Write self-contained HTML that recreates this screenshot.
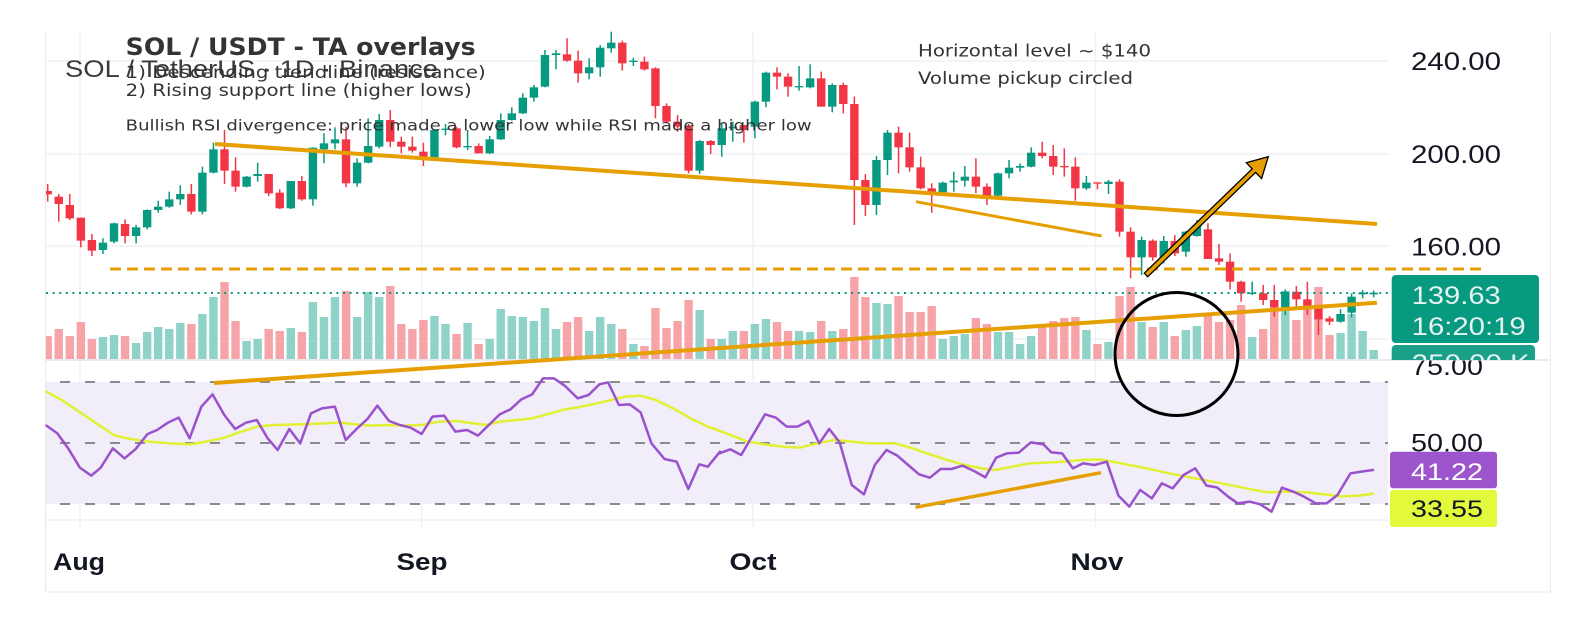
<!DOCTYPE html>
<html><head><meta charset="utf-8">
<style>
html,body{margin:0;padding:0;background:#fff;}
svg{display:block;}
.g rect{fill:#089981}.r rect{fill:#f23645}
.g .v{fill:#8fd3c8}.r .v{fill:#f6a4a8}
.ax{font-family:"Liberation Sans",Arial,sans-serif;fill:#131722;}
.an{font-family:"DejaVu Sans","Liberation Sans",sans-serif;fill:#333;}
</style></head>
<body>
<svg width="1589" height="630" viewBox="0 0 1589 630" xmlns="http://www.w3.org/2000/svg">
<defs>
<clipPath id="pc"><rect x="46" y="31" width="1342" height="329"/></clipPath>
<clipPath id="below"><rect x="1380" y="360.5" width="200" height="40"/></clipPath>
<clipPath id="above"><rect x="1380" y="330" width="200" height="30"/></clipPath>
</defs>
<rect width="1589" height="630" fill="#fff"/>
<!-- frame -->
<g stroke="#e9ebef" stroke-width="1" fill="none">
<line x1="45.5" y1="31" x2="45.5" y2="592"/>
<line x1="1550.5" y1="31" x2="1550.5" y2="592"/>
<line x1="45.5" y1="592" x2="1550.5" y2="592"/>
</g>
<!-- grid -->
<g stroke="#eff1f5" stroke-width="1.5">
<line x1="46" y1="61" x2="1388" y2="61"/>
<line x1="46" y1="154" x2="1388" y2="154"/>
<line x1="46" y1="246" x2="1388" y2="246"/>
<line x1="46" y1="339" x2="1388" y2="339"/>
<line x1="46" y1="520" x2="1388" y2="520"/>
<line x1="80" y1="31" x2="80" y2="527"/>
<line x1="421.6" y1="31" x2="421.6" y2="527"/>
<line x1="753" y1="31" x2="753" y2="527"/>
<line x1="1095.5" y1="31" x2="1095.5" y2="527"/>
</g>
<line x1="46" y1="360" x2="1550" y2="360" stroke="#e0e3eb" stroke-width="1.5"/>
<!-- RSI pane -->
<rect x="46" y="382" width="1342" height="122" fill="#f1edf9"/>
<g stroke="#8a8b90" stroke-width="2" stroke-dasharray="10 15" stroke-dashoffset="11">
<line x1="46" y1="382" x2="1388" y2="382"/>
<line x1="46" y1="443" x2="1388" y2="443"/>
<line x1="46" y1="504" x2="1388" y2="504"/>
</g>
<g fill="none" stroke-linejoin="round" stroke-linecap="round">
<g transform="translate(40,355) scale(0.43365,0.333333)">
<path vector-effect="non-scaling-stroke" stroke="#e2f032" stroke-width="2.5" d="M15,110L50,135L90,170L130,205L170,240L200,250L250,260L300,265L345,268L375,262L420,250L460,232L500,215L540,210L600,208L660,205L690,202L720,207L760,212L800,210L840,212L880,210L920,200L960,198L1000,205L1030,210L1060,200L1100,195L1135,190L1170,178L1210,163L1240,157L1275,148L1310,137L1350,125L1385,122L1420,135L1460,160L1500,190L1540,215L1568,228"/>
<path vector-effect="non-scaling-stroke" stroke="#9a52cc" stroke-width="2.5" d="M15,212L40,235L65,280L92,338L118,362L140,338L168,280L195,310L220,283L248,237L270,225L295,203L320,188L345,250L372,155L398,118L425,180L450,222L475,203L500,195L525,250L548,285L575,222L600,265L625,175L650,160L680,155L705,255L730,222L755,192L778,152L805,198L830,210L855,218L880,237L905,185L932,182L958,230L985,225L1010,242L1035,210L1060,178L1085,163L1110,133L1135,118L1160,70L1185,70L1210,92L1240,130L1265,120L1290,88L1310,82L1335,150L1360,148L1385,172L1410,265L1440,312L1468,320L1495,402L1520,328L1540,335L1568,290"/>
</g>
<g transform="translate(700,355) scale(0.43365,0.333333)">
<path vector-effect="non-scaling-stroke" stroke="#e2f032" stroke-width="2.5" d="M30,220L70,240L110,260L150,268L190,275L230,278L270,265L310,255L350,260L390,265L450,265L490,280L530,298L570,315L610,330L650,340L680,345L720,335L760,325L800,323L840,320L880,315L920,313L950,320L990,330L1030,340L1070,352L1110,362L1150,372L1190,382L1230,392L1270,403L1310,412L1350,410L1400,412L1440,418L1480,424L1520,422L1552,416"/>
<path vector-effect="non-scaling-stroke" stroke="#9a52cc" stroke-width="2.5" d="M45,295L70,283L95,300L122,240L150,178L175,188L200,215L225,215L250,198L275,265L298,222L322,262L350,390L378,418L403,330L430,285L455,302L480,330L505,358L530,368L555,342L580,342L605,332L632,348L658,367L683,308L708,295L735,293L763,262L792,268L810,292L835,295L860,340L883,325L910,330L938,320L965,422L990,455L1015,405L1042,430L1065,385L1090,400L1115,360L1142,340L1168,392L1192,397L1218,425L1240,445L1268,440L1292,448L1318,470L1342,398L1368,410L1393,425L1420,445L1445,445L1470,420L1500,355L1525,350L1552,345"/>
</g>
</g>
<!-- candles + volume -->
<g clip-path="url(#pc)"><g transform="translate(0,30) scale(1,0.333333)">
<g class="r" transform="translate(47.7,0)"><rect class="v" x="-4.2" y="918" width="8.4" height="69"/><rect x="-.75" y="462" width="1.5" height="53"/><rect x="-4.2" y="483" width="8.4" height="10"/></g>
<g class="r" transform="translate(58.75,0)"><rect class="v" x="-4.2" y="897" width="8.4" height="90"/><rect x="-.75" y="492" width="1.5" height="83"/><rect x="-4.2" y="500" width="8.4" height="22"/></g>
<g class="r" transform="translate(69.8,0)"><rect class="v" x="-4.2" y="918" width="8.4" height="69"/><rect x="-.75" y="492" width="1.5" height="78"/><rect x="-4.2" y="525" width="8.4" height="40"/></g>
<g class="r" transform="translate(80.85,0)"><rect class="v" x="-4.2" y="876" width="8.4" height="111"/><rect x="-.75" y="563" width="1.5" height="89"/><rect x="-4.2" y="563" width="8.4" height="69"/></g>
<g class="r" transform="translate(91.9,0)"><rect class="v" x="-4.2" y="927" width="8.4" height="60"/><rect x="-.75" y="612" width="1.5" height="66"/><rect x="-4.2" y="630" width="8.4" height="32"/></g>
<g class="g" transform="translate(102.95,0)"><rect class="v" x="-4.2" y="921" width="8.4" height="66"/><rect x="-.75" y="625" width="1.5" height="47"/><rect x="-4.2" y="638" width="8.4" height="22"/></g>
<g class="g" transform="translate(114,0)"><rect class="v" x="-4.2" y="915" width="8.4" height="72"/><rect x="-.75" y="578" width="1.5" height="62"/><rect x="-4.2" y="580" width="8.4" height="55"/></g>
<g class="r" transform="translate(125.05,0)"><rect class="v" x="-4.2" y="918" width="8.4" height="69"/><rect x="-.75" y="568" width="1.5" height="72"/><rect x="-4.2" y="582" width="8.4" height="36"/></g>
<g class="g" transform="translate(136.1,0)"><rect class="v" x="-4.2" y="939" width="8.4" height="48"/><rect x="-.75" y="585" width="1.5" height="55"/><rect x="-4.2" y="592" width="8.4" height="26"/></g>
<g class="g" transform="translate(147.15,0)"><rect class="v" x="-4.2" y="906" width="8.4" height="81"/><rect x="-.75" y="538" width="1.5" height="60"/><rect x="-4.2" y="540" width="8.4" height="52"/></g>
<g class="g" transform="translate(158.2,0)"><rect class="v" x="-4.2" y="891" width="8.4" height="96"/><rect x="-.75" y="512" width="1.5" height="36"/><rect x="-4.2" y="530" width="8.4" height="10"/></g>
<g class="g" transform="translate(169.25,0)"><rect class="v" x="-4.2" y="897" width="8.4" height="90"/><rect x="-.75" y="485" width="1.5" height="48"/><rect x="-4.2" y="508" width="8.4" height="22"/></g>
<g class="g" transform="translate(180.3,0)"><rect class="v" x="-4.2" y="879" width="8.4" height="108"/><rect x="-.75" y="466" width="1.5" height="59"/><rect x="-4.2" y="492" width="8.4" height="16"/></g>
<g class="r" transform="translate(191.35,0)"><rect class="v" x="-4.2" y="882" width="8.4" height="105"/><rect x="-.75" y="462" width="1.5" height="91"/><rect x="-4.2" y="492" width="8.4" height="53"/></g>
<g class="g" transform="translate(202.4,0)"><rect class="v" x="-4.2" y="852" width="8.4" height="135"/><rect x="-.75" y="410" width="1.5" height="143"/><rect x="-4.2" y="428" width="8.4" height="117"/></g>
<g class="g" transform="translate(213.45,0)"><rect class="v" x="-4.2" y="801" width="8.4" height="186"/><rect x="-.75" y="338" width="1.5" height="92"/><rect x="-4.2" y="358" width="8.4" height="70"/></g>
<g class="r" transform="translate(224.5,0)"><rect class="v" x="-4.2" y="756" width="8.4" height="231"/><rect x="-.75" y="300" width="1.5" height="162"/><rect x="-4.2" y="358" width="8.4" height="64"/></g>
<g class="r" transform="translate(235.55,0)"><rect class="v" x="-4.2" y="873" width="8.4" height="114"/><rect x="-.75" y="382" width="1.5" height="103"/><rect x="-4.2" y="422" width="8.4" height="48"/></g>
<g class="g" transform="translate(246.6,0)"><rect class="v" x="-4.2" y="933" width="8.4" height="54"/><rect x="-.75" y="438" width="1.5" height="34"/><rect x="-4.2" y="440" width="8.4" height="30"/></g>
<g class="g" transform="translate(257.65,0)"><rect class="v" x="-4.2" y="927" width="8.4" height="60"/><rect x="-.75" y="398" width="1.5" height="57"/><rect x="-4.2" y="432" width="8.4" height="6"/></g>
<g class="r" transform="translate(268.7,0)"><rect class="v" x="-4.2" y="897" width="8.4" height="90"/><rect x="-.75" y="432" width="1.5" height="66"/><rect x="-4.2" y="432" width="8.4" height="58"/></g>
<g class="r" transform="translate(279.75,0)"><rect class="v" x="-4.2" y="903" width="8.4" height="84"/><rect x="-.75" y="478" width="1.5" height="59"/><rect x="-4.2" y="488" width="8.4" height="47"/></g>
<g class="g" transform="translate(290.8,0)"><rect class="v" x="-4.2" y="894" width="8.4" height="93"/><rect x="-.75" y="453" width="1.5" height="84"/><rect x="-4.2" y="453" width="8.4" height="82"/></g>
<g class="r" transform="translate(301.85,0)"><rect class="v" x="-4.2" y="906" width="8.4" height="81"/><rect x="-.75" y="438" width="1.5" height="74"/><rect x="-4.2" y="453" width="8.4" height="55"/></g>
<g class="g" transform="translate(312.9,0)"><rect class="v" x="-4.2" y="816" width="8.4" height="171"/><rect x="-.75" y="352" width="1.5" height="175"/><rect x="-4.2" y="353" width="8.4" height="155"/></g>
<g class="g" transform="translate(323.95,0)"><rect class="v" x="-4.2" y="861" width="8.4" height="126"/><rect x="-.75" y="310" width="1.5" height="90"/><rect x="-4.2" y="340" width="8.4" height="18"/></g>
<g class="g" transform="translate(335,0)"><rect class="v" x="-4.2" y="801" width="8.4" height="186"/><rect x="-.75" y="292" width="1.5" height="66"/><rect x="-4.2" y="328" width="8.4" height="12"/></g>
<g class="r" transform="translate(346.05,0)"><rect class="v" x="-4.2" y="783" width="8.4" height="204"/><rect x="-.75" y="290" width="1.5" height="182"/><rect x="-4.2" y="328" width="8.4" height="132"/></g>
<g class="g" transform="translate(357.1,0)"><rect class="v" x="-4.2" y="861" width="8.4" height="126"/><rect x="-.75" y="385" width="1.5" height="85"/><rect x="-4.2" y="398" width="8.4" height="62"/></g>
<g class="g" transform="translate(368.15,0)"><rect class="v" x="-4.2" y="786" width="8.4" height="201"/><rect x="-.75" y="265" width="1.5" height="135"/><rect x="-4.2" y="348" width="8.4" height="50"/></g>
<g class="g" transform="translate(379.2,0)"><rect class="v" x="-4.2" y="801" width="8.4" height="186"/><rect x="-.75" y="252" width="1.5" height="103"/><rect x="-4.2" y="270" width="8.4" height="80"/></g>
<g class="r" transform="translate(390.25,0)"><rect class="v" x="-4.2" y="768" width="8.4" height="219"/><rect x="-.75" y="240" width="1.5" height="112"/><rect x="-4.2" y="270" width="8.4" height="65"/></g>
<g class="r" transform="translate(401.3,0)"><rect class="v" x="-4.2" y="882" width="8.4" height="105"/><rect x="-.75" y="320" width="1.5" height="50"/><rect x="-4.2" y="335" width="8.4" height="15"/></g>
<g class="r" transform="translate(412.35,0)"><rect class="v" x="-4.2" y="897" width="8.4" height="90"/><rect x="-.75" y="320" width="1.5" height="48"/><rect x="-4.2" y="350" width="8.4" height="12"/></g>
<g class="r" transform="translate(423.4,0)"><rect class="v" x="-4.2" y="870" width="8.4" height="117"/><rect x="-.75" y="338" width="1.5" height="70"/><rect x="-4.2" y="365" width="8.4" height="15"/></g>
<g class="g" transform="translate(434.45,0)"><rect class="v" x="-4.2" y="858" width="8.4" height="129"/><rect x="-.75" y="298" width="1.5" height="87"/><rect x="-4.2" y="300" width="8.4" height="82"/></g>
<g class="g" transform="translate(445.5,0)"><rect class="v" x="-4.2" y="882" width="8.4" height="105"/><rect x="-.75" y="282" width="1.5" height="34"/><rect x="-4.2" y="296" width="8.4" height="4"/></g>
<g class="r" transform="translate(456.55,0)"><rect class="v" x="-4.2" y="912" width="8.4" height="75"/><rect x="-.75" y="290" width="1.5" height="65"/><rect x="-4.2" y="295" width="8.4" height="57"/></g>
<g class="g" transform="translate(467.6,0)"><rect class="v" x="-4.2" y="879" width="8.4" height="108"/><rect x="-.75" y="300" width="1.5" height="60"/><rect x="-4.2" y="348" width="8.4" height="4"/></g>
<g class="r" transform="translate(478.65,0)"><rect class="v" x="-4.2" y="942" width="8.4" height="45"/><rect x="-.75" y="340" width="1.5" height="30"/><rect x="-4.2" y="348" width="8.4" height="22"/></g>
<g class="g" transform="translate(489.7,0)"><rect class="v" x="-4.2" y="927" width="8.4" height="60"/><rect x="-.75" y="318" width="1.5" height="54"/><rect x="-4.2" y="328" width="8.4" height="42"/></g>
<g class="g" transform="translate(500.75,0)"><rect class="v" x="-4.2" y="837" width="8.4" height="150"/><rect x="-.75" y="250" width="1.5" height="80"/><rect x="-4.2" y="270" width="8.4" height="58"/></g>
<g class="g" transform="translate(511.8,0)"><rect class="v" x="-4.2" y="858" width="8.4" height="129"/><rect x="-.75" y="232" width="1.5" height="40"/><rect x="-4.2" y="250" width="8.4" height="20"/></g>
<g class="g" transform="translate(522.85,0)"><rect class="v" x="-4.2" y="861" width="8.4" height="126"/><rect x="-.75" y="190" width="1.5" height="62"/><rect x="-4.2" y="203" width="8.4" height="47"/></g>
<g class="g" transform="translate(533.9,0)"><rect class="v" x="-4.2" y="873" width="8.4" height="114"/><rect x="-.75" y="165" width="1.5" height="50"/><rect x="-4.2" y="172" width="8.4" height="31"/></g>
<g class="g" transform="translate(544.95,0)"><rect class="v" x="-4.2" y="834" width="8.4" height="153"/><rect x="-.75" y="60" width="1.5" height="112"/><rect x="-4.2" y="75" width="8.4" height="95"/></g>
<g class="g" transform="translate(556,0)"><rect class="v" x="-4.2" y="897" width="8.4" height="90"/><rect x="-.75" y="60" width="1.5" height="58"/><rect x="-4.2" y="70" width="8.4" height="5"/></g>
<g class="r" transform="translate(567.05,0)"><rect class="v" x="-4.2" y="876" width="8.4" height="111"/><rect x="-.75" y="25" width="1.5" height="70"/><rect x="-4.2" y="73" width="8.4" height="19"/></g>
<g class="r" transform="translate(578.1,0)"><rect class="v" x="-4.2" y="861" width="8.4" height="126"/><rect x="-.75" y="62" width="1.5" height="96"/><rect x="-4.2" y="92" width="8.4" height="38"/></g>
<g class="g" transform="translate(589.15,0)"><rect class="v" x="-4.2" y="903" width="8.4" height="84"/><rect x="-.75" y="85" width="1.5" height="63"/><rect x="-4.2" y="112" width="8.4" height="18"/></g>
<g class="g" transform="translate(600.2,0)"><rect class="v" x="-4.2" y="861" width="8.4" height="126"/><rect x="-.75" y="45" width="1.5" height="95"/><rect x="-4.2" y="53" width="8.4" height="59"/></g>
<g class="g" transform="translate(611.25,0)"><rect class="v" x="-4.2" y="882" width="8.4" height="105"/><rect x="-.75" y="5" width="1.5" height="63"/><rect x="-4.2" y="38" width="8.4" height="17"/></g>
<g class="r" transform="translate(622.3,0)"><rect class="v" x="-4.2" y="897" width="8.4" height="90"/><rect x="-.75" y="32" width="1.5" height="90"/><rect x="-4.2" y="38" width="8.4" height="62"/></g>
<g class="g" transform="translate(633.35,0)"><rect class="v" x="-4.2" y="942" width="8.4" height="45"/><rect x="-.75" y="83" width="1.5" height="25"/><rect x="-4.2" y="92" width="8.4" height="4"/></g>
<g class="r" transform="translate(644.4,0)"><rect class="v" x="-4.2" y="948" width="8.4" height="39"/><rect x="-.75" y="80" width="1.5" height="42"/><rect x="-4.2" y="95" width="8.4" height="23"/></g>
<g class="r" transform="translate(655.45,0)"><rect class="v" x="-4.2" y="834" width="8.4" height="153"/><rect x="-.75" y="112" width="1.5" height="153"/><rect x="-4.2" y="115" width="8.4" height="113"/></g>
<g class="r" transform="translate(666.5,0)"><rect class="v" x="-4.2" y="894" width="8.4" height="93"/><rect x="-.75" y="220" width="1.5" height="58"/><rect x="-4.2" y="228" width="8.4" height="47"/></g>
<g class="r" transform="translate(677.55,0)"><rect class="v" x="-4.2" y="873" width="8.4" height="114"/><rect x="-.75" y="255" width="1.5" height="50"/><rect x="-4.2" y="275" width="8.4" height="15"/></g>
<g class="r" transform="translate(688.6,0)"><rect class="v" x="-4.2" y="810" width="8.4" height="177"/><rect x="-.75" y="282" width="1.5" height="148"/><rect x="-4.2" y="290" width="8.4" height="132"/></g>
<g class="g" transform="translate(699.65,0)"><rect class="v" x="-4.2" y="840" width="8.4" height="147"/><rect x="-.75" y="330" width="1.5" height="102"/><rect x="-4.2" y="333" width="8.4" height="89"/></g>
<g class="r" transform="translate(710.7,0)"><rect class="v" x="-4.2" y="927" width="8.4" height="60"/><rect x="-.75" y="330" width="1.5" height="42"/><rect x="-4.2" y="333" width="8.4" height="12"/></g>
<g class="g" transform="translate(721.75,0)"><rect class="v" x="-4.2" y="927" width="8.4" height="60"/><rect x="-.75" y="280" width="1.5" height="100"/><rect x="-4.2" y="295" width="8.4" height="50"/></g>
<g class="g" transform="translate(732.8,0)"><rect class="v" x="-4.2" y="903" width="8.4" height="84"/><rect x="-.75" y="275" width="1.5" height="60"/><rect x="-4.2" y="290" width="8.4" height="5"/></g>
<g class="r" transform="translate(743.85,0)"><rect class="v" x="-4.2" y="903" width="8.4" height="84"/><rect x="-.75" y="285" width="1.5" height="53"/><rect x="-4.2" y="285" width="8.4" height="15"/></g>
<g class="g" transform="translate(754.9,0)"><rect class="v" x="-4.2" y="882" width="8.4" height="105"/><rect x="-.75" y="212" width="1.5" height="113"/><rect x="-4.2" y="215" width="8.4" height="75"/></g>
<g class="g" transform="translate(765.95,0)"><rect class="v" x="-4.2" y="867" width="8.4" height="120"/><rect x="-.75" y="125" width="1.5" height="107"/><rect x="-4.2" y="128" width="8.4" height="87"/></g>
<g class="r" transform="translate(777,0)"><rect class="v" x="-4.2" y="876" width="8.4" height="111"/><rect x="-.75" y="112" width="1.5" height="66"/><rect x="-4.2" y="128" width="8.4" height="12"/></g>
<g class="r" transform="translate(788.05,0)"><rect class="v" x="-4.2" y="903" width="8.4" height="84"/><rect x="-.75" y="130" width="1.5" height="70"/><rect x="-4.2" y="140" width="8.4" height="30"/></g>
<g class="g" transform="translate(799.1,0)"><rect class="v" x="-4.2" y="903" width="8.4" height="84"/><rect x="-.75" y="108" width="1.5" height="74"/><rect x="-4.2" y="168" width="8.4" height="4"/></g>
<g class="g" transform="translate(810.15,0)"><rect class="v" x="-4.2" y="906" width="8.4" height="81"/><rect x="-.75" y="103" width="1.5" height="72"/><rect x="-4.2" y="145" width="8.4" height="27"/></g>
<g class="r" transform="translate(821.2,0)"><rect class="v" x="-4.2" y="873" width="8.4" height="114"/><rect x="-.75" y="125" width="1.5" height="105"/><rect x="-4.2" y="145" width="8.4" height="85"/></g>
<g class="g" transform="translate(832.25,0)"><rect class="v" x="-4.2" y="903" width="8.4" height="84"/><rect x="-.75" y="160" width="1.5" height="87"/><rect x="-4.2" y="165" width="8.4" height="65"/></g>
<g class="r" transform="translate(843.3,0)"><rect class="v" x="-4.2" y="897" width="8.4" height="90"/><rect x="-.75" y="158" width="1.5" height="92"/><rect x="-4.2" y="165" width="8.4" height="57"/></g>
<g class="r" transform="translate(854.35,0)"><rect class="v" x="-4.2" y="741" width="8.4" height="246"/><rect x="-.75" y="200" width="1.5" height="385"/><rect x="-4.2" y="222" width="8.4" height="228"/></g>
<g class="r" transform="translate(865.4,0)"><rect class="v" x="-4.2" y="801" width="8.4" height="186"/><rect x="-.75" y="432" width="1.5" height="126"/><rect x="-4.2" y="450" width="8.4" height="75"/></g>
<g class="g" transform="translate(876.45,0)"><rect class="v" x="-4.2" y="819" width="8.4" height="168"/><rect x="-.75" y="378" width="1.5" height="177"/><rect x="-4.2" y="390" width="8.4" height="135"/></g>
<g class="g" transform="translate(887.5,0)"><rect class="v" x="-4.2" y="822" width="8.4" height="165"/><rect x="-.75" y="300" width="1.5" height="135"/><rect x="-4.2" y="308" width="8.4" height="82"/></g>
<g class="r" transform="translate(898.55,0)"><rect class="v" x="-4.2" y="798" width="8.4" height="189"/><rect x="-.75" y="290" width="1.5" height="140"/><rect x="-4.2" y="308" width="8.4" height="44"/></g>
<g class="r" transform="translate(909.6,0)"><rect class="v" x="-4.2" y="846" width="8.4" height="141"/><rect x="-.75" y="308" width="1.5" height="117"/><rect x="-4.2" y="352" width="8.4" height="60"/></g>
<g class="r" transform="translate(920.65,0)"><rect class="v" x="-4.2" y="846" width="8.4" height="141"/><rect x="-.75" y="380" width="1.5" height="98"/><rect x="-4.2" y="412" width="8.4" height="63"/></g>
<g class="r" transform="translate(931.7,0)"><rect class="v" x="-4.2" y="828" width="8.4" height="159"/><rect x="-.75" y="460" width="1.5" height="88"/><rect x="-4.2" y="475" width="8.4" height="12"/></g>
<g class="g" transform="translate(942.75,0)"><rect class="v" x="-4.2" y="927" width="8.4" height="60"/><rect x="-.75" y="455" width="1.5" height="35"/><rect x="-4.2" y="458" width="8.4" height="29"/></g>
<g class="g" transform="translate(953.8,0)"><rect class="v" x="-4.2" y="918" width="8.4" height="69"/><rect x="-.75" y="425" width="1.5" height="60"/><rect x="-4.2" y="452" width="8.4" height="5"/></g>
<g class="g" transform="translate(964.85,0)"><rect class="v" x="-4.2" y="912" width="8.4" height="75"/><rect x="-.75" y="408" width="1.5" height="62"/><rect x="-4.2" y="440" width="8.4" height="12"/></g>
<g class="r" transform="translate(975.9,0)"><rect class="v" x="-4.2" y="864" width="8.4" height="123"/><rect x="-.75" y="385" width="1.5" height="105"/><rect x="-4.2" y="440" width="8.4" height="30"/></g>
<g class="r" transform="translate(986.95,0)"><rect class="v" x="-4.2" y="882" width="8.4" height="105"/><rect x="-.75" y="460" width="1.5" height="65"/><rect x="-4.2" y="470" width="8.4" height="27"/></g>
<g class="g" transform="translate(998,0)"><rect class="v" x="-4.2" y="906" width="8.4" height="81"/><rect x="-.75" y="428" width="1.5" height="70"/><rect x="-4.2" y="430" width="8.4" height="67"/></g>
<g class="g" transform="translate(1009.05,0)"><rect class="v" x="-4.2" y="906" width="8.4" height="81"/><rect x="-.75" y="390" width="1.5" height="55"/><rect x="-4.2" y="413" width="8.4" height="17"/></g>
<g class="g" transform="translate(1020.1,0)"><rect class="v" x="-4.2" y="942" width="8.4" height="45"/><rect x="-.75" y="400" width="1.5" height="25"/><rect x="-4.2" y="408" width="8.4" height="5"/></g>
<g class="g" transform="translate(1031.15,0)"><rect class="v" x="-4.2" y="918" width="8.4" height="69"/><rect x="-.75" y="352" width="1.5" height="60"/><rect x="-4.2" y="368" width="8.4" height="42"/></g>
<g class="r" transform="translate(1042.2,0)"><rect class="v" x="-4.2" y="885" width="8.4" height="102"/><rect x="-.75" y="335" width="1.5" height="50"/><rect x="-4.2" y="368" width="8.4" height="10"/></g>
<g class="r" transform="translate(1053.25,0)"><rect class="v" x="-4.2" y="873" width="8.4" height="114"/><rect x="-.75" y="345" width="1.5" height="90"/><rect x="-4.2" y="378" width="8.4" height="32"/></g>
<g class="r" transform="translate(1064.3,0)"><rect class="v" x="-4.2" y="864" width="8.4" height="123"/><rect x="-.75" y="355" width="1.5" height="85"/><rect x="-4.2" y="408" width="8.4" height="4"/></g>
<g class="r" transform="translate(1075.35,0)"><rect class="v" x="-4.2" y="861" width="8.4" height="126"/><rect x="-.75" y="382" width="1.5" height="130"/><rect x="-4.2" y="410" width="8.4" height="65"/></g>
<g class="g" transform="translate(1086.4,0)"><rect class="v" x="-4.2" y="900" width="8.4" height="87"/><rect x="-.75" y="438" width="1.5" height="42"/><rect x="-4.2" y="458" width="8.4" height="17"/></g>
<g class="r" transform="translate(1097.45,0)"><rect class="v" x="-4.2" y="942" width="8.4" height="45"/><rect x="-.75" y="457" width="1.5" height="21"/><rect x="-4.2" y="457" width="8.4" height="4"/></g>
<g class="g" transform="translate(1108.5,0)"><rect class="v" x="-4.2" y="936" width="8.4" height="51"/><rect x="-.75" y="450" width="1.5" height="42"/><rect x="-4.2" y="455" width="8.4" height="7"/></g>
<g class="r" transform="translate(1119.55,0)"><rect class="v" x="-4.2" y="798" width="8.4" height="189"/><rect x="-.75" y="448" width="1.5" height="172"/><rect x="-4.2" y="455" width="8.4" height="150"/></g>
<g class="r" transform="translate(1130.6,0)"><rect class="v" x="-4.2" y="771" width="8.4" height="216"/><rect x="-.75" y="592" width="1.5" height="153"/><rect x="-4.2" y="605" width="8.4" height="77"/></g>
<g class="g" transform="translate(1141.65,0)"><rect class="v" x="-4.2" y="876" width="8.4" height="111"/><rect x="-.75" y="620" width="1.5" height="115"/><rect x="-4.2" y="630" width="8.4" height="52"/></g>
<g class="r" transform="translate(1152.7,0)"><rect class="v" x="-4.2" y="891" width="8.4" height="96"/><rect x="-.75" y="628" width="1.5" height="64"/><rect x="-4.2" y="632" width="8.4" height="50"/></g>
<g class="g" transform="translate(1163.75,0)"><rect class="v" x="-4.2" y="876" width="8.4" height="111"/><rect x="-.75" y="618" width="1.5" height="82"/><rect x="-4.2" y="633" width="8.4" height="52"/></g>
<g class="r" transform="translate(1174.8,0)"><rect class="v" x="-4.2" y="918" width="8.4" height="69"/><rect x="-.75" y="615" width="1.5" height="63"/><rect x="-4.2" y="633" width="8.4" height="37"/></g>
<g class="g" transform="translate(1185.85,0)"><rect class="v" x="-4.2" y="900" width="8.4" height="87"/><rect x="-.75" y="603" width="1.5" height="77"/><rect x="-4.2" y="605" width="8.4" height="60"/></g>
<g class="g" transform="translate(1196.9,0)"><rect class="v" x="-4.2" y="888" width="8.4" height="99"/><rect x="-.75" y="570" width="1.5" height="50"/><rect x="-4.2" y="585" width="8.4" height="33"/></g>
<g class="r" transform="translate(1207.95,0)"><rect class="v" x="-4.2" y="858" width="8.4" height="129"/><rect x="-.75" y="580" width="1.5" height="107"/><rect x="-4.2" y="598" width="8.4" height="89"/></g>
<g class="r" transform="translate(1219,0)"><rect class="v" x="-4.2" y="876" width="8.4" height="111"/><rect x="-.75" y="642" width="1.5" height="63"/><rect x="-4.2" y="685" width="8.4" height="10"/></g>
<g class="r" transform="translate(1230.05,0)"><rect class="v" x="-4.2" y="870" width="8.4" height="117"/><rect x="-.75" y="670" width="1.5" height="108"/><rect x="-4.2" y="695" width="8.4" height="60"/></g>
<g class="r" transform="translate(1241.1,0)"><rect class="v" x="-4.2" y="825" width="8.4" height="162"/><rect x="-.75" y="752" width="1.5" height="63"/><rect x="-4.2" y="755" width="8.4" height="35"/></g>
<g class="g" transform="translate(1252.15,0)"><rect class="v" x="-4.2" y="921" width="8.4" height="66"/><rect x="-.75" y="755" width="1.5" height="40"/><rect x="-4.2" y="788" width="8.4" height="4"/></g>
<g class="r" transform="translate(1263.2,0)"><rect class="v" x="-4.2" y="897" width="8.4" height="90"/><rect x="-.75" y="765" width="1.5" height="60"/><rect x="-4.2" y="790" width="8.4" height="20"/></g>
<g class="r" transform="translate(1274.25,0)"><rect class="v" x="-4.2" y="825" width="8.4" height="162"/><rect x="-.75" y="765" width="1.5" height="95"/><rect x="-4.2" y="810" width="8.4" height="22"/></g>
<g class="g" transform="translate(1285.3,0)"><rect class="v" x="-4.2" y="783" width="8.4" height="204"/><rect x="-.75" y="778" width="1.5" height="77"/><rect x="-4.2" y="785" width="8.4" height="47"/></g>
<g class="r" transform="translate(1296.35,0)"><rect class="v" x="-4.2" y="870" width="8.4" height="117"/><rect x="-.75" y="768" width="1.5" height="62"/><rect x="-4.2" y="785" width="8.4" height="23"/></g>
<g class="r" transform="translate(1307.4,0)"><rect class="v" x="-4.2" y="825" width="8.4" height="162"/><rect x="-.75" y="755" width="1.5" height="100"/><rect x="-4.2" y="808" width="8.4" height="24"/></g>
<g class="r" transform="translate(1318.45,0)"><rect class="v" x="-4.2" y="771" width="8.4" height="216"/><rect x="-.75" y="830" width="1.5" height="85"/><rect x="-4.2" y="832" width="8.4" height="36"/></g>
<g class="r" transform="translate(1329.5,0)"><rect class="v" x="-4.2" y="915" width="8.4" height="72"/><rect x="-.75" y="858" width="1.5" height="27"/><rect x="-4.2" y="865" width="8.4" height="10"/></g>
<g class="g" transform="translate(1340.55,0)"><rect class="v" x="-4.2" y="909" width="8.4" height="78"/><rect x="-.75" y="838" width="1.5" height="40"/><rect x="-4.2" y="852" width="8.4" height="23"/></g>
<g class="g" transform="translate(1351.6,0)"><rect class="v" x="-4.2" y="852" width="8.4" height="135"/><rect x="-.75" y="790" width="1.5" height="72"/><rect x="-4.2" y="800" width="8.4" height="48"/></g>
<g class="g" transform="translate(1362.65,0)"><rect class="v" x="-4.2" y="903" width="8.4" height="84"/><rect x="-.75" y="780" width="1.5" height="25"/><rect x="-4.2" y="788" width="8.4" height="5"/></g>
<g class="g" transform="translate(1373.7,0)"><rect class="v" x="-4.2" y="960" width="8.4" height="27"/><rect x="-.75" y="782" width="1.5" height="20"/><rect x="-4.2" y="788" width="8.4" height="5"/></g>
</g></g>
<!-- price line -->
<line x1="46" y1="293" x2="1388" y2="293" stroke="#089981" stroke-width="2" stroke-dasharray="2 4.6"/>
<!-- watermark -->
<text x="65" y="77" font-family="'Liberation Sans',Arial,sans-serif" font-size="24" fill="#3a3a3a" textLength="373" lengthAdjust="spacingAndGlyphs">SOL / TetherUS · 1D · Binance</text>
<!-- right axis -->
<g class="ax" font-size="25">
<text x="1411" y="70" textLength="90" lengthAdjust="spacingAndGlyphs">240.00</text>
<text x="1411" y="163" textLength="90" lengthAdjust="spacingAndGlyphs">200.00</text>
<text x="1411" y="255.5" textLength="90" lengthAdjust="spacingAndGlyphs">160.00</text>
<text x="1411" y="375" textLength="72" lengthAdjust="spacingAndGlyphs" clip-path="url(#below)">75.00</text>
<text x="1411" y="451.7" textLength="72" lengthAdjust="spacingAndGlyphs">50.00</text>
</g>
<rect x="1391.7" y="275" width="147.3" height="68" rx="4" fill="#089981"/>
<text x="1411.7" y="304" class="ax" font-size="25" style="fill:#e4f4f0" textLength="89" lengthAdjust="spacingAndGlyphs">139.63</text>
<text x="1411.7" y="335" class="ax" font-size="25" style="fill:#e4f4f0" textLength="114" lengthAdjust="spacingAndGlyphs">16:20:19</text>
<g clip-path="url(#above)">
<rect x="1391.7" y="345" width="143.3" height="24" rx="4" fill="#1a9f88"/>
<text x="1411.7" y="372" class="ax" font-size="25" style="fill:#e4f4f0" textLength="118" lengthAdjust="spacingAndGlyphs">250.00 K</text>
</g>
<rect x="1390" y="451.7" width="107" height="36.6" rx="3" fill="#9c55cc"/>
<text x="1411" y="480" class="ax" font-size="24" style="fill:#ffffff" textLength="72" lengthAdjust="spacingAndGlyphs">41.22</text>
<rect x="1390" y="490" width="107" height="37" rx="3" fill="#e3fa3c"/>
<text x="1411" y="517" class="ax" font-size="24" textLength="72" lengthAdjust="spacingAndGlyphs">33.55</text>
<!-- time axis -->
<g class="ax" font-size="24.5" font-weight="bold" text-anchor="middle">
<text x="79" y="570" textLength="52" lengthAdjust="spacingAndGlyphs">Aug</text>
<text x="422" y="570" textLength="51" lengthAdjust="spacingAndGlyphs">Sep</text>
<text x="753" y="570" textLength="47" lengthAdjust="spacingAndGlyphs">Oct</text>
<text x="1097" y="570" textLength="53" lengthAdjust="spacingAndGlyphs">Nov</text>
</g>
<!-- overlays -->
<g stroke="#E69F00" fill="none" stroke-linecap="butt">
<line x1="215" y1="144" x2="1377" y2="224" stroke-width="4"/>
<line x1="214" y1="383" x2="1377" y2="302.7" stroke-width="4"/>
<line x1="916" y1="201.7" x2="1101.7" y2="236" stroke-width="3"/>
<line x1="915.5" y1="507.3" x2="1101" y2="472.7" stroke-width="3.5"/>
<line x1="110" y1="269" x2="1481" y2="269" stroke-width="3" stroke-dasharray="11 6"/>
</g>
<polygon points="1147.7,276.8 1255.6,172.4 1261.6,178.5 1268.3,156.7 1246.3,162.7 1252.2,168.8 1144.3,273.2" fill="#E69F00" stroke="#000" stroke-width="1.3" stroke-linejoin="miter"/>
<circle cx="1176.5" cy="354" r="61.5" fill="none" stroke="#000" stroke-width="3"/>
<!-- annotation text -->
<text x="125.7" y="55" class="an" font-size="24" font-weight="bold" textLength="350" lengthAdjust="spacingAndGlyphs">SOL / USDT - TA overlays</text>
<text x="125.7" y="78" class="an" font-size="16.5" textLength="360" lengthAdjust="spacingAndGlyphs">1) Descending trendline (resistance)</text>
<text x="125.7" y="96" class="an" font-size="16.5" textLength="346" lengthAdjust="spacingAndGlyphs">2) Rising support line (higher lows)</text>
<text x="125.7" y="130.5" class="an" font-size="15.5" textLength="686" lengthAdjust="spacingAndGlyphs">Bullish RSI divergence: price made a lower low while RSI made a higher low</text>
<text x="918" y="56.7" class="an" font-size="17" textLength="233" lengthAdjust="spacingAndGlyphs">Horizontal level ~ $140</text>
<text x="918" y="84" class="an" font-size="17" textLength="215" lengthAdjust="spacingAndGlyphs">Volume pickup circled</text>
</svg>
</body></html>
